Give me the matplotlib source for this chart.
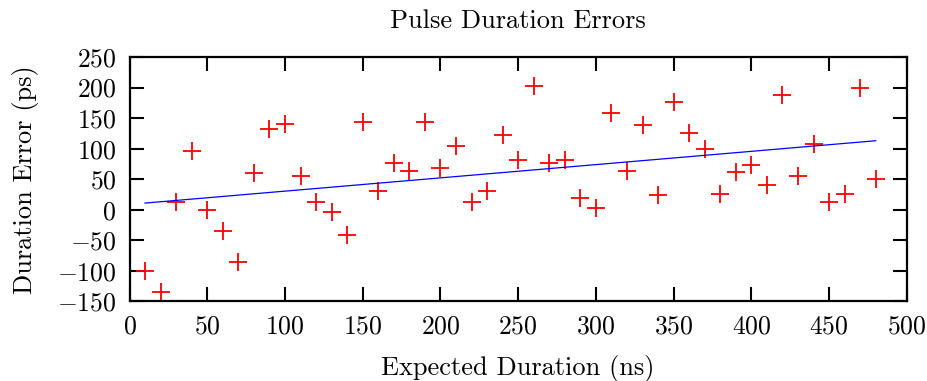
import numpy as np
import matplotlib
matplotlib.use("Agg")
import matplotlib.pyplot as plt

# Computer Modern look (gnuplot + LaTeX style)
plt.rcParams['font.family'] = 'cmr10'
plt.rcParams['mathtext.fontset'] = 'cm'
plt.rcParams['axes.formatter.use_mathtext'] = True

# measured pulse duration errors
expected_ns = [10, 20, 30, 40, 50, 60, 70, 80, 90, 100,
               110, 120, 130, 140, 150, 160, 170, 180, 190, 200,
               210, 220, 230, 240, 250, 260, 270, 280, 290, 300,
               310, 320, 330, 340, 350, 360, 370, 380, 390, 400,
               410, 420, 430, 440, 450, 460, 470, 480]
error_ps = [-100, -135, 12, 97, -1, -34, -85, 61, 132, 140,
            56, 12, -4, -41, 143, 30, 77, 63, 143, 69,
            105, 13, 31, 122, 82, 202, 77, 81, 19, 3,
            158, 64, 138, 24, 176, 125, 99, 26, 62, 74,
            41, 188, 56, 107, 13, 26, 200, 51]

# linear fit line endpoints
fit_x = [10, 480]
fit_y = [11, 113]

fig = plt.figure(figsize=(9.27, 3.81), dpi=100)
ax = fig.add_axes([0.1397, 0.2087, 0.8385, 0.6417])

ax.plot(expected_ns, error_ps, linestyle='none', marker='+', color='#ff0000',
        markersize=12.5, markeredgewidth=1.3)
ax.plot(fit_x, fit_y, color='#0000ff', linewidth=0.9)

ax.set_xlim(0, 500)
ax.set_ylim(-150, 250)
ax.set_xticks(np.arange(0, 501, 50))
ax.set_yticks(np.arange(-150, 251, 50))

ax.tick_params(direction='in', length=10, width=1.5, top=True, right=True,
               labelsize=18.5, pad=9.5)
for s in ax.spines.values():
    s.set_linewidth(1.6)

ax.set_title('Pulse Duration Errors', fontsize=19, pad=21)
ax.set_xlabel('Expected Duration (ns)', fontsize=19, labelpad=12)
ax.set_ylabel('Duration Error (ps)', fontsize=19, labelpad=13)

fig.savefig('out.png', dpi=100)
